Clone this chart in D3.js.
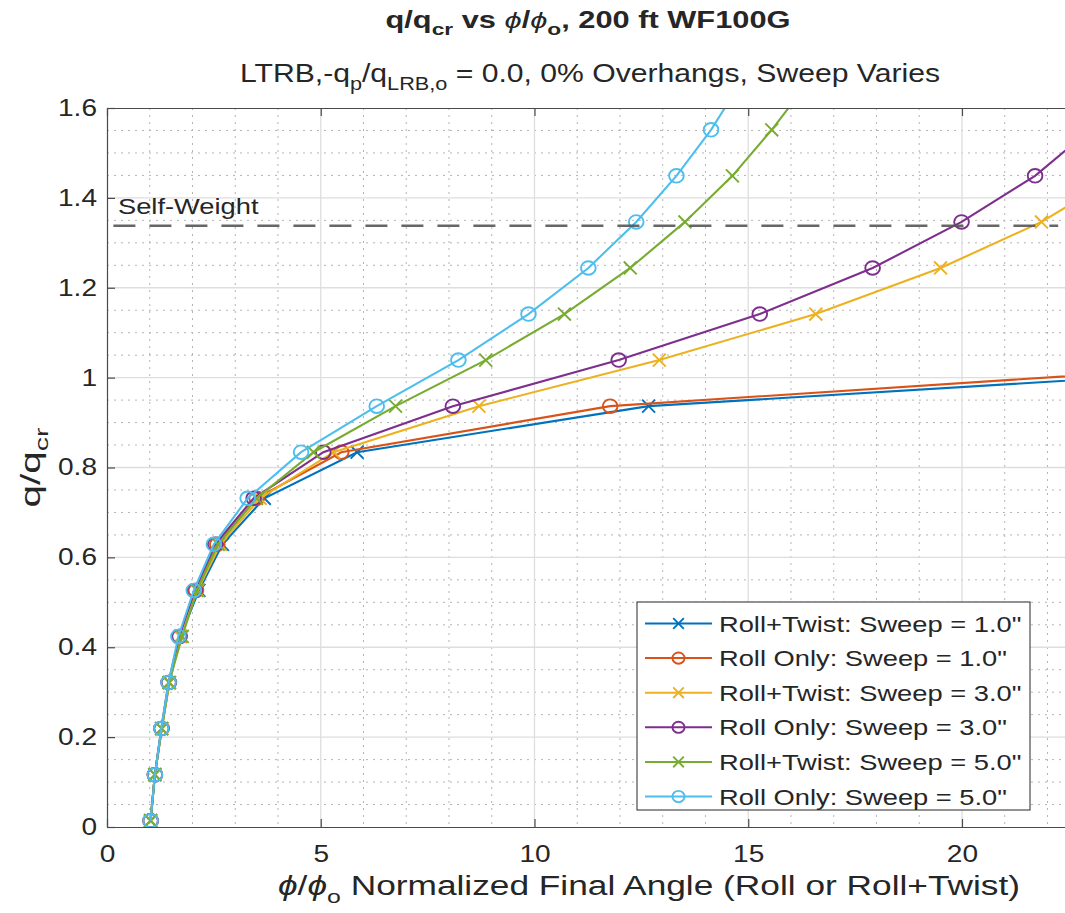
<!DOCTYPE html>
<html><head><meta charset="utf-8">
<script src="https://cdn.jsdelivr.net/npm/d3@7"></script>
<style>
body{margin:0;background:#fff}
svg{display:block}
text{font-family:"Liberation Sans",Arial,Helvetica,sans-serif;fill:#262626}
</style>
</head><body>
<svg id="c" width="1065" height="913"></svg>
<script>
// ---- data ----
const qRatio = [0.014, 0.1165, 0.219, 0.3215, 0.424, 0.5265, 0.629, 0.7315, 0.834, 0.9365, 1.039, 1.1415, 1.244, 1.3465, 1.449, 1.5515, 1.654];
const angleRollTwist1 = [1.02, 1.12, 1.28, 1.46, 1.72, 2.15, 2.70, 3.68, 5.85, 12.67, 30.3];
const angleRollOnly1  = [1.02, 1.12, 1.28, 1.45, 1.70, 2.08, 2.58, 3.50, 5.48, 11.77, 28.2];
const angleRollTwist3 = [1.02, 1.12, 1.28, 1.46, 1.71, 2.12, 2.65, 3.58, 5.30, 8.70, 12.92, 16.58, 19.50, 21.86, 23.65];
const angleRollOnly3  = [1.02, 1.12, 1.27, 1.44, 1.69, 2.05, 2.53, 3.43, 5.06, 8.09, 11.97, 15.27, 17.91, 19.99, 21.71, 23.0];
const angleRollTwist5 = [1.02, 1.12, 1.28, 1.45, 1.76, 2.10, 2.60, 3.50, 4.83, 6.75, 8.86, 10.70, 12.24, 13.52, 14.63, 15.55, 16.38];
const angleRollOnly5  = [1.02, 1.12, 1.27, 1.44, 1.67, 2.03, 2.50, 3.29, 4.54, 6.31, 8.22, 9.86, 11.26, 12.38, 13.32, 14.13, 14.81];
const seriesNames = ['Roll+Twist: Sweep = 1.0"', 'Roll Only: Sweep = 1.0"', 'Roll+Twist: Sweep = 3.0"', 'Roll Only: Sweep = 3.0"', 'Roll+Twist: Sweep = 5.0"', 'Roll Only: Sweep = 5.0"'];
const seriesAngles = [angleRollTwist1, angleRollOnly1, angleRollTwist3, angleRollOnly3, angleRollTwist5, angleRollOnly5];
const seriesMarkers = ["x", "o", "x", "o", "x", "o"];
const seriesColors = ["#0072BD", "#D95319", "#EDB120", "#7E2F8E", "#77AC30", "#4DBEEE"];
const xTicks = [0, 5, 10, 15, 20];
const yTicks = [0, 0.2, 0.4, 0.6, 0.8, 1, 1.2, 1.4, 1.6];
const selfWeight = 1.338;
const selfWeightLabel = "Self-Weight";

// ---- layout ----
const svg = d3.select("#c");
const L = 107, R = 1065, T = 108, B = 827;
const x = d3.scaleLinear().domain([0, 22.41]).range([L, R]);
const y = d3.scaleLinear().domain([0, 1.6]).range([B, T]);

function stretch(sel, f) {
  sel.each(function () {
    const w = this.getComputedTextLength();
    d3.select(this).attr("textLength", w * f).attr("lengthAdjust", "spacingAndGlyphs");
  });
}

svg.append("defs").append("clipPath").attr("id", "clip")
  .append("rect").attr("x", L).attr("y", T).attr("width", R - L).attr("height", B - T);

// minor grid
const g = svg.append("g");
g.selectAll(".mx").data(d3.range(1, 23).filter(v => v % 5 !== 0)).join("line")
  .attr("x1", d => x(d)).attr("x2", d => x(d)).attr("y1", T).attr("y2", B)
  .attr("stroke", "#b4b4b4").attr("stroke-width", 1).attr("stroke-dasharray", "2,5");
g.selectAll(".my").data(d3.range(0.05, 1.6, 0.05).filter(v => Math.abs(v * 5 - Math.round(v * 5)) > 1e-6)).join("line")
  .attr("x1", L).attr("x2", R).attr("y1", d => y(d)).attr("y2", d => y(d))
  .attr("stroke", "#b4b4b4").attr("stroke-width", 1).attr("stroke-dasharray", "2,5");
// major grid
g.selectAll(".gx").data(xTicks.slice(1)).join("line")
  .attr("x1", d => x(d)).attr("x2", d => x(d)).attr("y1", T).attr("y2", B)
  .attr("stroke", "#dedede").attr("stroke-width", 1.3);
g.selectAll(".gy").data(yTicks.slice(1, -1)).join("line")
  .attr("x1", L).attr("x2", R).attr("y1", d => y(d)).attr("y2", d => y(d))
  .attr("stroke", "#dedede").attr("stroke-width", 1.3);

// series
const plot = svg.append("g").attr("clip-path", "url(#clip)");
const line = d3.line().x(d => x(d[0])).y(d => y(d[1]));
function drawMarker(sel, type, color, cx, cy, s) {
  if (type === "o") {
    sel.append("ellipse").attr("cx", cx).attr("cy", cy).attr("rx", s * 1.08).attr("ry", s)
      .attr("fill", "none").attr("stroke", color).attr("stroke-width", 1.9);
  } else {
    const h = s * 0.95;
    sel.append("path").attr("d", `M${cx - h},${cy - h}L${cx + h},${cy + h}M${cx - h},${cy + h}L${cx + h},${cy - h}`)
      .attr("stroke", color).attr("stroke-width", 1.9).attr("fill", "none");
  }
}
seriesAngles.forEach((arr, i) => {
  const pts = arr.map((a, k) => [a, qRatio[k]]);
  plot.append("path").datum(pts).attr("d", line).attr("fill", "none")
    .attr("stroke", seriesColors[i]).attr("stroke-width", 2.1);
  const mg = plot.append("g");
  pts.forEach(p => drawMarker(mg, seriesMarkers[i], seriesColors[i], x(p[0]), y(p[1]), 6.8));
});

// self-weight line
svg.append("line").attr("x1", x(0.15)).attr("x2", x(22.25)).attr("y1", y(selfWeight)).attr("y2", y(selfWeight))
  .attr("stroke", "#555").attr("stroke-width", 2.4).attr("stroke-dasharray", "22,14").attr("stroke-opacity", 0.9);
svg.append("text").attr("x", 118).attr("y", y(selfWeight) - 12).attr("font-size", 22).text(selfWeightLabel)
  .call(stretch, 1.24);

// axes
const axColor = "#4a4a4a";
const xb = svg.append("g").attr("transform", `translate(0,${B})`)
  .call(d3.axisBottom(x).tickValues(xTicks).tickFormat(d3.format("d")).tickSize(-8).tickSizeOuter(0).tickPadding(19));
const xt = svg.append("g").attr("transform", `translate(0,${T})`)
  .call(d3.axisTop(x).tickValues(xTicks).tickFormat("").tickSize(-8).tickSizeOuter(0));
const yl = svg.append("g").attr("transform", `translate(${L},0)`)
  .call(d3.axisLeft(y).tickValues(yTicks).tickFormat(d => d === 0 || d === 1 ? String(d) : d3.format(".1f")(d)).tickSize(-8).tickSizeOuter(0).tickPadding(10));
[xb, xt, yl].forEach(a => {
  a.select(".domain").attr("stroke", axColor).attr("stroke-width", 1.2);
  a.selectAll(".tick line").attr("stroke", axColor).attr("stroke-width", 1.2);
  a.selectAll(".tick text").attr("font-size", 23).attr("fill", "#262626")
    .style("font-family", '"Liberation Sans",Arial,Helvetica,sans-serif')
    .call(stretch, 1.22);
});

// titles
const t1 = svg.append("text").attr("x", 588).attr("y", 28).attr("text-anchor", "middle")
  .attr("font-size", 23).attr("font-weight", "bold");
t1.append("tspan").text("q/q");
t1.append("tspan").attr("dy", 7).attr("font-size", 17).text("cr");
t1.append("tspan").attr("dy", -7).text(" vs ");
t1.append("tspan").attr("font-style", "italic").attr("font-weight", "normal").text("ϕ");
t1.append("tspan").text("/");
t1.append("tspan").attr("font-style", "italic").attr("font-weight", "normal").text("ϕ");
t1.append("tspan").attr("dy", 7).attr("font-size", 17).text("o");
t1.append("tspan").attr("dy", -7).text(", 200 ft WF100G");
t1.attr("textLength", 405).attr("lengthAdjust", "spacingAndGlyphs");

const t2 = svg.append("text").attr("x", 590).attr("y", 82).attr("text-anchor", "middle").attr("font-size", 25);
t2.append("tspan").text("LTRB,-q");
t2.append("tspan").attr("dy", 8).attr("font-size", 18).text("p");
t2.append("tspan").attr("dy", -8).text("/q");
t2.append("tspan").attr("dy", 8).attr("font-size", 18).text("LRB,o");
t2.append("tspan").attr("dy", -8).text(" = 0.0, 0% Overhangs, Sweep Varies");
t2.attr("textLength", 700).attr("lengthAdjust", "spacingAndGlyphs");

const xl = svg.append("text").attr("x", 649).attr("y", 895).attr("text-anchor", "middle").attr("font-size", 27);
xl.append("tspan").attr("font-style", "italic").text("ϕ");
xl.append("tspan").text("/");
xl.append("tspan").attr("font-style", "italic").text("ϕ");
xl.append("tspan").attr("dy", 8).attr("font-size", 19).text("o");
xl.append("tspan").attr("dy", -8).text(" Normalized Final Angle (Roll or Roll+Twist)");
xl.attr("textLength", 742).attr("lengthAdjust", "spacingAndGlyphs");

const yla = svg.append("text").attr("transform", `translate(40,${(T + B) / 2}) rotate(-90)`).attr("text-anchor", "middle").attr("font-size", 27);
yla.append("tspan").text("q/q");
yla.append("tspan").attr("dy", 8).attr("font-size", 19).text("cr");
yla.attr("textLength", 80).attr("lengthAdjust", "spacingAndGlyphs");

// legend
const lg = svg.append("g");
lg.append("rect").attr("x", 637).attr("y", 602).attr("width", 393).attr("height", 208)
  .attr("fill", "#fff").attr("stroke", "#262626").attr("stroke-width", 1);
seriesNames.forEach((n, i) => {
  const cy = 623.5 + i * 34.6;
  lg.append("line").attr("x1", 645).attr("x2", 712).attr("y1", cy).attr("y2", cy)
    .attr("stroke", seriesColors[i]).attr("stroke-width", 2);
  drawMarker(lg, seriesMarkers[i], seriesColors[i], 678.5, cy, 5.6);
  lg.append("text").attr("x", 719).attr("y", cy + 8).attr("font-size", 22).text(n).call(stretch, 1.24);
});
</script>
</body></html>
